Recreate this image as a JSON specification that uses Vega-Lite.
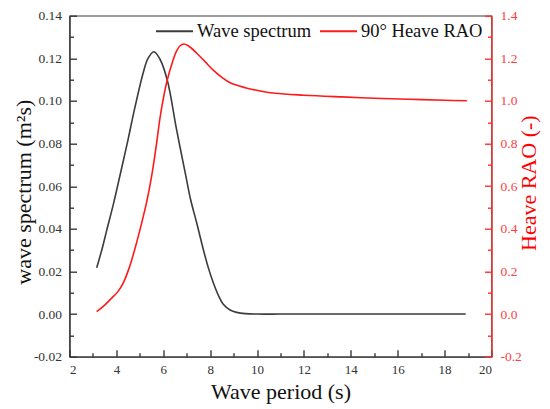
{
  "$schema": "https://vega.github.io/schema/vega-lite/v6.json",
  "autosize": {"type": "none"},
  "width": 422,
  "height": 341,
  "padding": {"left": 69.5, "top": 15.7, "right": 58.5, "bottom": 52.3},
  "background": "white",
  "config": {
    "font": "Liberation Serif",
    "view": {"stroke": "#3a3a3a", "strokeWidth": 1.2},
    "axis": {
      "grid": false,
      "ticks": true,
      "labelFont": "Liberation Serif",
      "labelFontSize": 13,
      "titleFont": "Liberation Serif",
      "titleFontSize": 22,
      "titleFontWeight": "normal",
      "domainWidth": 1.3,
      "tickWidth": 1.4
    }
  },
  "data": {
    "values": [
      {"T": 3.16, "s": "Wave spectrum", "v": 0.0217},
      {"T": 3.4, "s": "Wave spectrum", "v": 0.031},
      {"T": 3.59, "s": "Wave spectrum", "v": 0.0394},
      {"T": 3.87, "s": "Wave spectrum", "v": 0.0515},
      {"T": 4.08, "s": "Wave spectrum", "v": 0.0615},
      {"T": 4.5, "s": "Wave spectrum", "v": 0.082},
      {"T": 4.72, "s": "Wave spectrum", "v": 0.0935},
      {"T": 5.15, "s": "Wave spectrum", "v": 0.1135},
      {"T": 5.35, "s": "Wave spectrum", "v": 0.12},
      {"T": 5.6, "s": "Wave spectrum", "v": 0.1231},
      {"T": 5.85, "s": "Wave spectrum", "v": 0.1198},
      {"T": 6.17, "s": "Wave spectrum", "v": 0.1098},
      {"T": 6.57, "s": "Wave spectrum", "v": 0.0864},
      {"T": 6.97, "s": "Wave spectrum", "v": 0.0644},
      {"T": 7.17, "s": "Wave spectrum", "v": 0.0535},
      {"T": 7.43, "s": "Wave spectrum", "v": 0.0426},
      {"T": 7.71, "s": "Wave spectrum", "v": 0.0302},
      {"T": 7.92, "s": "Wave spectrum", "v": 0.0218},
      {"T": 8.13, "s": "Wave spectrum", "v": 0.0148},
      {"T": 8.35, "s": "Wave spectrum", "v": 0.0088},
      {"T": 8.56, "s": "Wave spectrum", "v": 0.0046},
      {"T": 8.85, "s": "Wave spectrum", "v": 0.0019},
      {"T": 9.13, "s": "Wave spectrum", "v": 0.0008},
      {"T": 9.5, "s": "Wave spectrum", "v": 0.0002},
      {"T": 10, "s": "Wave spectrum", "v": 0.0},
      {"T": 11, "s": "Wave spectrum", "v": 0.0},
      {"T": 13, "s": "Wave spectrum", "v": 0.0},
      {"T": 15, "s": "Wave spectrum", "v": 0.0},
      {"T": 17, "s": "Wave spectrum", "v": 0.0},
      {"T": 18.9, "s": "Wave spectrum", "v": 0.0},
      {"T": 3.16, "s": "90° Heave RAO", "v": 0.012},
      {"T": 3.5, "s": "90° Heave RAO", "v": 0.042},
      {"T": 3.8, "s": "90° Heave RAO", "v": 0.075},
      {"T": 4.05, "s": "90° Heave RAO", "v": 0.103},
      {"T": 4.3, "s": "90° Heave RAO", "v": 0.148},
      {"T": 4.55, "s": "90° Heave RAO", "v": 0.218},
      {"T": 4.8, "s": "90° Heave RAO", "v": 0.31},
      {"T": 5.05, "s": "90° Heave RAO", "v": 0.415},
      {"T": 5.29, "s": "90° Heave RAO", "v": 0.525},
      {"T": 5.5, "s": "90° Heave RAO", "v": 0.645},
      {"T": 5.7, "s": "90° Heave RAO", "v": 0.79},
      {"T": 5.86, "s": "90° Heave RAO", "v": 0.92},
      {"T": 6.0, "s": "90° Heave RAO", "v": 1.01},
      {"T": 6.17, "s": "90° Heave RAO", "v": 1.098},
      {"T": 6.4, "s": "90° Heave RAO", "v": 1.185},
      {"T": 6.57, "s": "90° Heave RAO", "v": 1.235},
      {"T": 6.72, "s": "90° Heave RAO", "v": 1.259},
      {"T": 6.88, "s": "90° Heave RAO", "v": 1.267},
      {"T": 7.05, "s": "90° Heave RAO", "v": 1.26},
      {"T": 7.43, "s": "90° Heave RAO", "v": 1.224},
      {"T": 7.8, "s": "90° Heave RAO", "v": 1.182},
      {"T": 8.13, "s": "90° Heave RAO", "v": 1.145},
      {"T": 8.5, "s": "90° Heave RAO", "v": 1.111},
      {"T": 8.85, "s": "90° Heave RAO", "v": 1.085},
      {"T": 9.5, "s": "90° Heave RAO", "v": 1.062},
      {"T": 10.13, "s": "90° Heave RAO", "v": 1.047},
      {"T": 10.77, "s": "90° Heave RAO", "v": 1.036},
      {"T": 12, "s": "90° Heave RAO", "v": 1.027},
      {"T": 13.61, "s": "90° Heave RAO", "v": 1.019},
      {"T": 15, "s": "90° Heave RAO", "v": 1.013},
      {"T": 16.45, "s": "90° Heave RAO", "v": 1.008},
      {"T": 18, "s": "90° Heave RAO", "v": 1.003},
      {"T": 18.95, "s": "90° Heave RAO", "v": 1.001}
    ]
  },
  "encoding": {
    "x": {
      "field": "T",
      "type": "quantitative",
      "scale": {"domain": [2, 20], "nice": false, "zero": false},
      "axis": {
        "title": "Wave period (s)",
        "titleColor": "#111",
        "titleBaseline": "alphabetic",
        "titleY": 42,
        "values": [2, 3, 4, 5, 6, 7, 8, 9, 10, 11, 12, 13, 14, 15, 16, 17, 18, 19, 20],
        "labelExpr": "datum.value % 2 == 0 ? datum.label : ''",
        "labelFont": "Liberation Serif",
        "labelFontSize": 13,
        "labelColor": "#333",
        "labelPadding": 14,
        "domainColor": "#3a3a3a",
        "tickColor": "#3a3a3a",
        "tickSize": {"condition": {"test": "datum.value % 2 != 0", "value": -4}, "value": -7}
      }
    },
    "color": {
      "field": "s",
      "type": "nominal",
      "scale": {"domain": ["Wave spectrum", "90° Heave RAO"], "range": ["#3c3c3c", "#ff1a1a"]},
      "legend": {
        "orient": "none",
        "legendX": 85.5,
        "legendY": -4,
        "direction": "horizontal",
        "title": null,
        "symbolType": "stroke",
        "symbolSize": 1369,
        "symbolStrokeWidth": 2,
        "labelFont": "Liberation Serif",
        "labelFontSize": 18.5,
        "labelColor": "#111",
        "labelOffset": 3,
        "columnPadding": 4,
        "labelLimit": 300,
        "labelExpr": "datum.label == 'Wave spectrum' ? datum.label : '\u00a0\u00a0' + datum.label"
      }
    }
  },
  "layer": [
    {
      "transform": [{"filter": "datum.s == 'Wave spectrum'"}],
      "mark": {"type": "line", "interpolate": "catmull-rom", "strokeWidth": 1.6},
      "encoding": {
        "y": {
          "field": "v",
          "type": "quantitative",
          "scale": {"domain": [-0.02, 0.14], "nice": false, "zero": false},
          "axis": {
            "orient": "left",
            "title": "wave spectrum (m²s)",
            "titleColor": "#111",
            "titleBaseline": "alphabetic",
            "titleX": -39.5,
            "titleY": 176,
            "values": [-0.02, -0.01, 0, 0.01, 0.02, 0.03, 0.04, 0.05, 0.06, 0.07, 0.08, 0.09, 0.1, 0.11, 0.12, 0.13, 0.14],
            "format": ".2f",
            "labelExpr": "abs(round(datum.value * 100)) % 2 == 1 ? '' : replace(datum.label, '\u2212', '-')",
            "labelFont": "Liberation Serif",
            "labelFontSize": 13.5,
            "labelColor": "#333",
            "labelPadding": 15,
            "domainColor": "#3a3a3a",
            "tickColor": "#3a3a3a",
            "tickSize": {"condition": {"test": "abs(round(datum.value * 100)) % 2 == 1", "value": -4}, "value": -7}
          }
        }
      }
    },
    {
      "transform": [{"filter": "datum.s == '90° Heave RAO'"}],
      "mark": {"type": "line", "interpolate": "catmull-rom", "strokeWidth": 1.6},
      "encoding": {
        "y": {
          "field": "v",
          "type": "quantitative",
          "scale": {"domain": [-0.2, 1.4], "nice": false, "zero": false},
          "axis": {
            "orient": "right",
            "title": "Heave RAO (-)",
            "titleColor": "#ff0000",
            "titleAngle": 270,
            "titleBaseline": "alphabetic",
            "titleX": 44,
            "titleY": 167,
            "values": [-0.2, -0.1, 0, 0.1, 0.2, 0.3, 0.4, 0.5, 0.6, 0.7, 0.8, 0.9, 1.0, 1.1, 1.2, 1.3, 1.4],
            "format": ".1f",
            "labelExpr": "abs(round(datum.value * 10)) % 2 == 1 ? '' : replace(datum.label, '\u2212', '-')",
            "labelFont": "Liberation Serif",
            "labelFontSize": 13.5,
            "labelColor": "#ff4040",
            "labelPadding": 15.5,
            "domainColor": "#ff3030",
            "tickColor": "#ff3030",
            "tickSize": {"condition": {"test": "abs(round(datum.value * 10)) % 2 == 1", "value": -4}, "value": -7}
          }
        }
      }
    }
  ],
  "resolve": {"scale": {"y": "independent"}}
}
